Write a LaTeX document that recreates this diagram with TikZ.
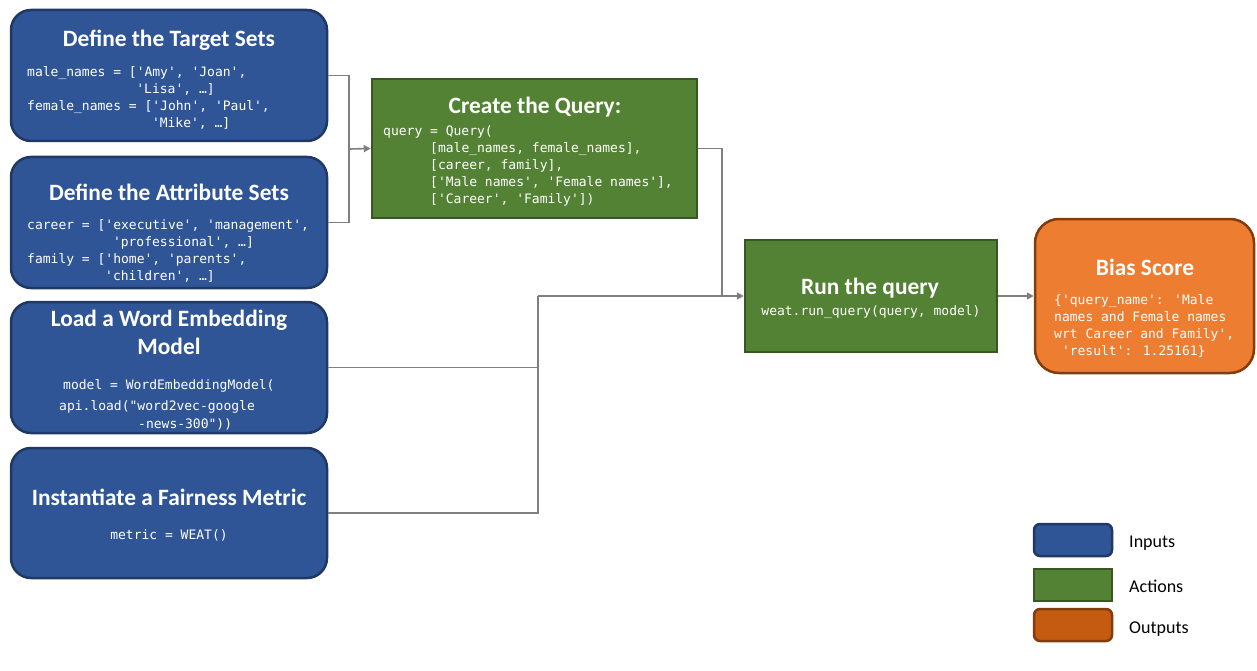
\documentclass[tikz,border=0pt]{standalone}
\usepackage{fontspec}
\setmainfont{Carlito}
\newfontfamily\codefont{DejaVu Sans Mono}
\usetikzlibrary{arrows.meta}
\definecolor{bluefill}{HTML}{2F5597}
\definecolor{blueline}{HTML}{203864}
\definecolor{greenfill}{HTML}{548235}
\definecolor{greenline}{HTML}{385723}
\definecolor{orangefill}{HTML}{ED7D31}
\definecolor{orangeline}{HTML}{843C0C}
\definecolor{outfill}{HTML}{C55A11}
\definecolor{conncol}{HTML}{7F7F7F}
\tikzset{
  inbox/.style={draw=blueline, fill=bluefill, line width=2.5pt, rounded corners=20pt, inner sep=0},
  actbox/.style={draw=greenline, fill=greenfill, line width=2.5pt, inner sep=0},
  outbox/.style={draw=orangeline, fill=orangefill, line width=2.5pt, rounded corners=24pt, inner sep=0},
  title/.style={text=white, font=\bfseries\fontsize{23.4}{28}\selectfont, anchor=mid, inner sep=0, yshift=-4pt},
  code/.style={text=white, font=\codefont\fontsize{13}{16}\selectfont, anchor=mid west, inner sep=0, yshift=-3pt},
  codec/.style={code, anchor=mid},
  legtext/.style={text=black, font=\fontsize{18}{22}\selectfont, anchor=mid west, inner sep=0, yshift=-4pt},
  conn/.style={draw=conncol, line width=1.6pt},
  arr/.style={conn, -{Triangle[length=7pt,width=7pt]}},
}
\begin{document}
\begin{tikzpicture}[x=1pt,y=-1pt]
\useasboundingbox[fill=white] (0,0) rectangle (1257,671);

% input boxes
\node[inbox, minimum width=316pt, minimum height=131pt] (target) at (169,75.5) {};
\node[inbox, minimum width=316pt, minimum height=131pt] (attr) at (169,222.5) {};
\node[inbox, minimum width=316pt, minimum height=131pt] (load) at (169,367.5) {};
\node[inbox, minimum width=316pt, minimum height=130pt] (inst) at (169,513) {};
% action boxes
\node[actbox, minimum width=325pt, minimum height=139pt] (query) at (534.5,148.5) {};
\node[actbox, minimum width=252pt, minimum height=112pt] (run) at (871,296) {};
% output box
\node[outbox, minimum width=219pt, minimum height=154pt] (bias) at (1144.5,296) {};

% Target sets
\node[title] (t1) at (169,40) {Define the Target Sets};
\node[code] (t1a) at (27,71) {male\_names = ['Amy', 'Joan',};
\node[code] (t1b) at (136.2,88) {'Lisa', …]};
\node[code] (t1c) at (27,105) {female\_names = ['John', 'Paul',};
\node[code] (t1d) at (151.8,122) {'Mike', …]};

% Attribute sets
\node[title] (t2) at (169,194) {Define the Attribute Sets};
\node[code] (t2a) at (27,224) {career = ['executive', 'management',};
\node[code] (t2b) at (112.8,241) {'professional', …]};
\node[code] (t2c) at (27,258) {family = ['home', 'parents',};
\node[code] (t2d) at (105,275) {'children', …]};

% Load model
\node[title] (t3) at (169,320) {Load a Word Embedding};
\node[title] (t3b) at (169,348) {Model};
\node[code] (t3c) at (63,384) {model = WordEmbeddingModel(};
\node[code] (t3d) at (59,405) {api.load("word2vec-google};
\node[code] (t3e) at (138,423) {-news-300"))};

% Metric
\node[title] (t4) at (169,499) {Instantiate a Fairness Metric};
\node[codec] (t4a) at (169,534) {metric = WEAT()};

% Query
\node[title] (t5) at (535,107) {Create the Query:};
\node[code] (t5a) at (383,130) {query = Query(};
\node[code] (t5b) at (430,147) {[male\_names, female\_names],};
\node[code] (t5c) at (430,164) {[career, family],};
\node[code] (t5d) at (430,181) {['Male names', 'Female names'],};
\node[code] (t5e) at (430,198) {['Career', 'Family'])};

% Run
\node[title] (t6) at (870,288) {Run the query};
\node[codec] (t6a) at (871,310) {weat.run\_query(query, model)};

% Bias
\node[title] (t7) at (1145,269) {Bias Score};
\node[code] (t7a) at (1054,299) {\{'query\_name': 'Male};
\node[code] (t7b) at (1054,316) {names and Female names};
\node[code] (t7c) at (1054,333) {wrt Career and Family',};
\node[code] (t7d) at (1061.8,350) {'result': 1.25161\}};

% connectors
\coordinate (brk) at (349,149);
\coordinate (jq) at (722,296);
\coordinate (jm) at (538,296);
\draw[conn] (target.east) -- (target.east -| brk) -- (attr.east -| brk) -- (attr.east);
\draw[arr] (brk) -- (query.west);
\draw[conn] (query.east) -| (jq);
\draw[conn] (load.east) -| (jm);
\draw[conn] (inst.east) -| (jm);
\draw[arr] (jm) -- (run.west);
\draw[arr] (run.east) -- (bias.west);

% legend
\node[draw=blueline, fill=bluefill, line width=2.5pt, rounded corners=6pt, minimum width=78pt, minimum height=32pt, inner sep=0] (leg1) at (1073,540) {};
\node[draw=greenline, fill=greenfill, line width=2.5pt, minimum width=78pt, minimum height=32pt, inner sep=0] (leg2) at (1073,585) {};
\node[draw=orangeline, fill=outfill, line width=2.5pt, rounded corners=6pt, minimum width=78pt, minimum height=32pt, inner sep=0] (leg3) at (1073,625) {};
\node[legtext] (l1) at (1129,541) {Inputs};
\node[legtext] (l2) at (1129,586) {Actions};
\node[legtext] (l3) at (1129,627) {Outputs};
\end{tikzpicture}
\end{document}
